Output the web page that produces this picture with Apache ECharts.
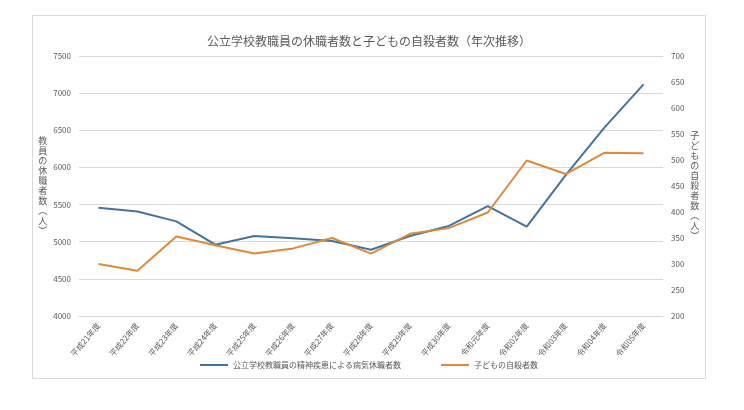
<!DOCTYPE html>
<html lang="ja">
<head>
<meta charset="UTF-8">
<script src="https://cdn.jsdelivr.net/npm/echarts@6/dist/echarts.min.js"></script>
<style>
html,body{margin:0;background:#fff;}
#box{position:absolute;left:32px;top:15px;width:672px;height:362px;border:1px solid #d9d9d9;}
#main{width:672px;height:362px;}
</style>
</head>
<body>
<div id="box"><div id="main"></div></div>
<script>
var years = ['平成21年度','平成22年度','平成23年度','平成24年度','平成25年度','平成26年度','平成27年度','平成28年度','平成29年度','平成30年度','令和元年度','令和02年度','令和03年度','令和04年度','令和05年度'];
var teachers = [5458, 5407, 5274, 4960, 5077, 5045, 5009, 4891, 5077, 5212, 5478, 5203, 5897, 6539, 7119];
var suicides = [300, 287, 353, 336, 320, 330, 350, 320, 358, 369, 399, 499, 473, 514, 513];

var chart = echarts.init(document.getElementById('main'));
var font = 'Noto Sans CJK JP';
chart.setOption({
    textStyle: {fontFamily: font},
    title: {
        text: '公立学校教職員の休職者数と子どもの自殺者数（年次推移）',
        left: 'center', top: 14,
        textStyle: {fontSize: 12, fontWeight: 'normal', color: '#595959', fontFamily: font}
    },
    legend: {
        bottom: 4, itemWidth: 28, itemHeight: 2, itemGap: 40, icon: 'rect',
        textStyle: {fontSize: 8, color: '#595959'}
    },
    grid: {left: 46, right: 42, top: 40, bottom: 62, containLabel: false, outerBoundsMode: 'none'},
    xAxis: {
        type: 'category', data: years,
        axisLine: {lineStyle: {color: '#d9d9d9'}},
        axisTick: {show: false},
        axisLabel: {rotate: 50, fontSize: 8, color: '#595959', margin: 8, interval: 0}
    },
    yAxis: [{
        type: 'value', min: 4000, max: 7500, interval: 500,
        name: '教\n員\nの\n休\n職\n者\n数\n︵\n人\n︶', nameLocation: 'middle', nameGap: 30, nameRotate: 0,
        nameTextStyle: {fontSize: 9, color: '#595959', lineHeight: 10},
        axisLabel: {fontSize: 8, color: '#595959', formatter: function (v) { return String(v); }},
        splitLine: {lineStyle: {color: '#d9d9d9'}}
    }, {
        type: 'value', min: 200, max: 700, interval: 50,
        name: '子\nど\nも\nの\n自\n殺\n者\n数\n︵\n人\n︶', nameLocation: 'middle', nameGap: 26, nameRotate: 0,
        nameTextStyle: {fontSize: 9, color: '#595959', lineHeight: 10},
        axisLabel: {fontSize: 8, color: '#595959'},
        splitLine: {show: false}
    }],
    series: [{
        name: '公立学校教職員の精神疾患による病気休職者数', type: 'line', data: teachers,
        symbol: 'none', lineStyle: {color: '#44729f', width: 2}, itemStyle: {color: '#44729f'}
    }, {
        name: '子どもの自殺者数', type: 'line', yAxisIndex: 1, data: suicides,
        symbol: 'none', lineStyle: {color: '#dd8a3a', width: 2}, itemStyle: {color: '#dd8a3a'}
    }]
});
</script>
</body>
</html>
